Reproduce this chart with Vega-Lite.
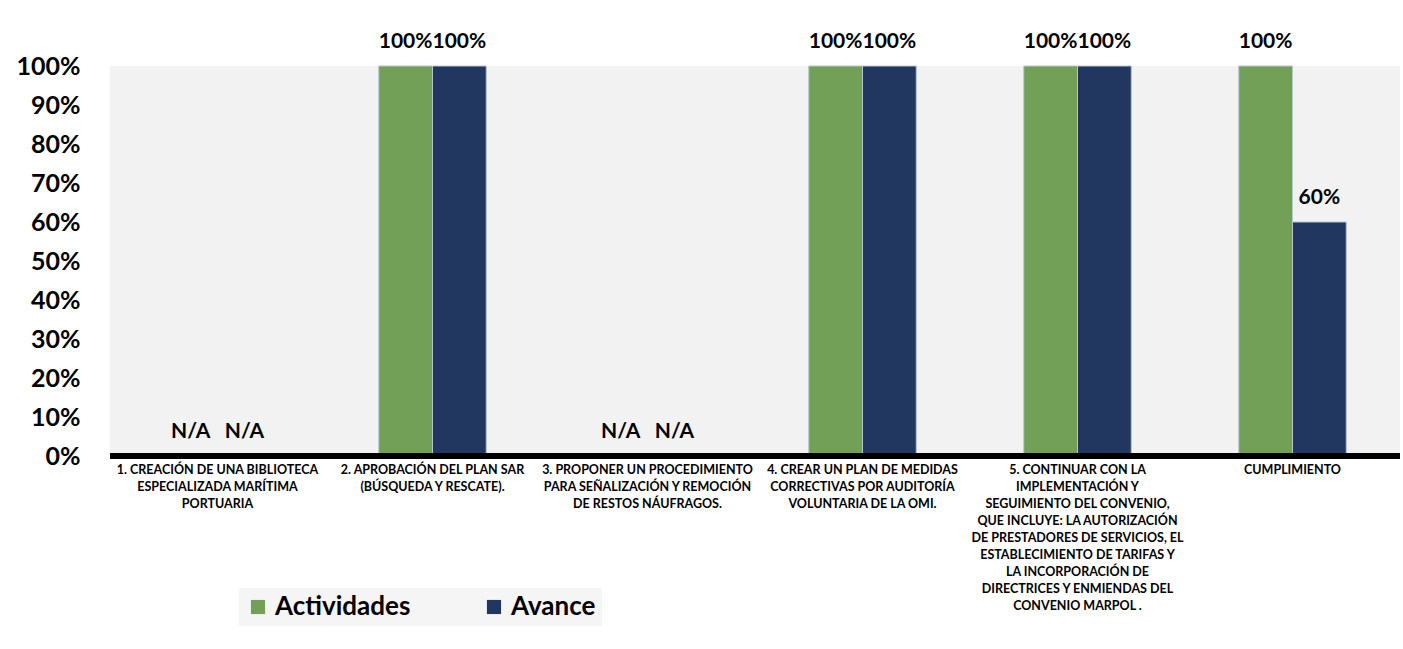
{
  "$schema": "https://vega.github.io/schema/vega-lite/v6.json",
  "autosize": {"type": "none"},
  "width": 1290,
  "height": 390,
  "padding": {"left": 110, "top": 66, "right": 3, "bottom": 193},
  "background": "white",
  "config": {
    "font": "Lato",
    "view": {"fill": "#f2f2f2", "stroke": null}
  },
  "data": {
    "values": [
      {"cat": "1. CREACIÓN DE UNA BIBLIOTECA|ESPECIALIZADA MARÍTIMA|PORTUARIA", "serie": "Actividades", "valor": 0, "etiqueta": "N/A"},
      {"cat": "1. CREACIÓN DE UNA BIBLIOTECA|ESPECIALIZADA MARÍTIMA|PORTUARIA", "serie": "Avance", "valor": 0, "etiqueta": "N/A"},
      {"cat": "2. APROBACIÓN DEL PLAN SAR|(BÚSQUEDA Y RESCATE).", "serie": "Actividades", "valor": 1, "etiqueta": "100%"},
      {"cat": "2. APROBACIÓN DEL PLAN SAR|(BÚSQUEDA Y RESCATE).", "serie": "Avance", "valor": 1, "etiqueta": "100%"},
      {"cat": "3. PROPONER UN PROCEDIMIENTO|PARA SEÑALIZACIÓN Y REMOCIÓN|DE RESTOS NÁUFRAGOS.", "serie": "Actividades", "valor": 0, "etiqueta": "N/A"},
      {"cat": "3. PROPONER UN PROCEDIMIENTO|PARA SEÑALIZACIÓN Y REMOCIÓN|DE RESTOS NÁUFRAGOS.", "serie": "Avance", "valor": 0, "etiqueta": "N/A"},
      {"cat": "4. CREAR  UN PLAN DE MEDIDAS|CORRECTIVAS POR AUDITORÍA|VOLUNTARIA DE LA OMI.", "serie": "Actividades", "valor": 1, "etiqueta": "100%"},
      {"cat": "4. CREAR  UN PLAN DE MEDIDAS|CORRECTIVAS POR AUDITORÍA|VOLUNTARIA DE LA OMI.", "serie": "Avance", "valor": 1, "etiqueta": "100%"},
      {"cat": "5. CONTINUAR CON LA|IMPLEMENTACIÓN Y|SEGUIMIENTO DEL CONVENIO,|QUE INCLUYE: LA AUTORIZACIÓN|DE PRESTADORES DE SERVICIOS, EL|ESTABLECIMIENTO DE TARIFAS Y|LA INCORPORACIÓN DE|DIRECTRICES Y ENMIENDAS DEL|CONVENIO MARPOL .", "serie": "Actividades", "valor": 1, "etiqueta": "100%"},
      {"cat": "5. CONTINUAR CON LA|IMPLEMENTACIÓN Y|SEGUIMIENTO DEL CONVENIO,|QUE INCLUYE: LA AUTORIZACIÓN|DE PRESTADORES DE SERVICIOS, EL|ESTABLECIMIENTO DE TARIFAS Y|LA INCORPORACIÓN DE|DIRECTRICES Y ENMIENDAS DEL|CONVENIO MARPOL .", "serie": "Avance", "valor": 1, "etiqueta": "100%"},
      {"cat": "CUMPLIMIENTO", "serie": "Actividades", "valor": 1, "etiqueta": "100%"},
      {"cat": "CUMPLIMIENTO", "serie": "Avance", "valor": 0.6, "etiqueta": "60%"}
    ]
  },
  "encoding": {
    "x": {
      "field": "cat", "type": "nominal", "sort": null, "title": null,
      "scale": {"paddingInner": 0.5, "paddingOuter": 0.25},
      "axis": {
        "labelAngle": 0, "domain": false, "ticks": false, "labelPadding": 7,
        "labelExpr": "split(datum.label, '|')",
        "labelFont": "Lato", "labelFontWeight": "bold", "labelFontSize": 12.5,
        "labelColor": "#000000", "labelLimit": 300, "labelOverlap": false,
        "labelBaseline": "top", "labelLineHeight": 17
      }
    },
    "xOffset": {"field": "serie", "type": "nominal", "sort": ["Actividades", "Avance"]},
    "y": {
      "field": "valor", "type": "quantitative", "title": null,
      "scale": {"domain": [0, 1], "nice": false},
      "axis": {
        "format": "%", "values": [0, 0.1, 0.2, 0.3, 0.4, 0.5, 0.6, 0.7, 0.8, 0.9, 1],
        "labelOverlap": false,
        "domain": false, "ticks": false, "grid": false, "labelPadding": 30,
        "labelFont": "Lato", "labelFontWeight": "bold", "labelFontSize": 25, "labelColor": "#000000"
      }
    }
  },
  "layer": [
    {
      "mark": {"type": "bar", "stroke": "#b8c4d0", "strokeWidth": 1},
      "encoding": {
        "color": {
          "field": "serie", "type": "nominal", "title": null,
          "scale": {"domain": ["Actividades", "Avance"], "range": ["#72a056", "#213760"]},
          "legend": {
            "orient": "none", "direction": "horizontal", "legendX": 129, "legendY": 522,
            "symbolType": "square", "symbolSize": 200, "symbolStrokeWidth": 0,
            "labelFont": "Lato", "labelFontSize": 26, "labelFontWeight": "bold", "labelColor": "#000000",
            "columnPadding": 70, "fillColor": "#f5f5f5", "padding": 6, "labelOffset": 4
          }
        }
      }
    },
    {
      "mark": {"type": "text", "baseline": "bottom", "dy": -14, "font": "Lato", "fontSize": 21, "fontWeight": "bold", "color": "#000000"},
      "encoding": {"text": {"field": "etiqueta"}}
    },
    {
      "mark": {"type": "rule", "color": "#000000", "strokeWidth": 5},
      "encoding": {"y": {"datum": 0}, "x": null, "xOffset": null}
    }
  ]
}
